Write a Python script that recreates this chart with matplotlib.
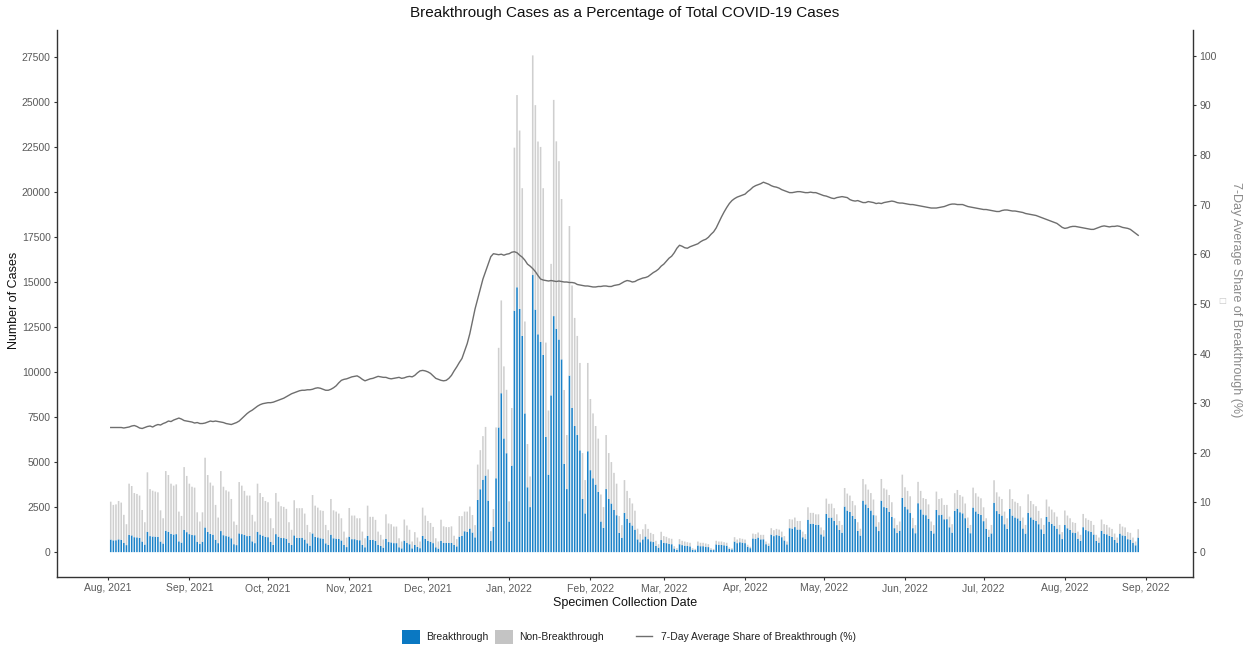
import matplotlib
matplotlib.use("Agg")
import matplotlib.pyplot as plt
import matplotlib.dates as mdates
from matplotlib.patches import Patch
from matplotlib.lines import Line2D
import numpy as np
import datetime as dt

plt.rcParams['font.family'] = ['Liberation Sans', 'DejaVu Sans']

start_date = "2021-08-02"   # first bar (Monday); one bar per day, weeks listed Mon..Sun

total_cases = [
    2800, 2620, 2650, 2840, 2750, 2070, 1550,
    3800, 3670, 3280, 3230, 3140, 2340, 1660,
    4430, 3500, 3410, 3360, 3320, 2320, 1880,
    4500, 4280, 3800, 3690, 3760, 2250, 2010,
    4720, 4230, 3800, 3630, 3580, 2210, 1700,
    2210, 5240, 4280, 3860, 3690, 2620, 1920,
    4500, 3630, 3430, 3360, 2950, 1700, 1510,
    3890, 3690, 3400, 3140, 3140, 2070, 1700,
    3800, 3280, 3060, 2840, 2770, 1880, 1330,
    3280, 2800, 2550, 2510, 2400, 1660, 1240,
    2880, 2440, 2440, 2440, 2140, 1510, 1110,
    3170, 2580, 2470, 2320, 2290, 1510, 1220,
    2950, 2320, 2250, 2140, 1880, 1140, 810,
    2450, 2030, 2030, 1880, 1880, 1140, 770,
    2580, 1960, 1960, 1790, 1140, 960, 700,
    2100, 1590, 1550, 1420, 1420, 770, 590,
    1810, 1480, 1240, 590, 1110, 810, 590,
    2470, 2030, 1730, 1620, 1400, 770, 590,
    1800, 1430, 1390, 1390, 1430, 910, 720,
    2000, 2000, 2250, 2250, 2530, 2060, 1500,
    4860, 5660, 6440, 6950, 4590, 1160, 2390,
    6920, 11340, 13970, 10310, 9010, 2820, 8000,
    22450, 25370, 23400, 20200, 12800, 6000, 4200,
    27570, 24810, 22790, 22490, 20200, 11630, 7860,
    16000, 25100, 22800, 21700, 19600, 9000, 6500,
    18100, 14800, 13000, 12000, 10500, 5500, 4000,
    10500, 8500, 7700, 7000, 6300, 3200, 2500,
    6500, 5500, 5000, 4400, 3800, 2000, 1500,
    4000, 3400, 3000, 2700, 2300, 1300, 1000,
    1270, 1550, 1290, 1070, 1000, 630, 440,
    1130, 890, 850, 770, 740, 330, 220,
    720, 630, 590, 550, 520, 220, 180,
    590, 520, 520, 480, 440, 220, 180,
    630, 590, 590, 550, 520, 260, 220,
    830, 700, 770, 740, 700, 410, 300,
    1030, 1000, 1090, 960, 960, 590, 480,
    1330, 1220, 1290, 1250, 1140, 890, 590,
    1830, 1810, 1920, 1730, 1730, 1140, 1000,
    2490, 2180, 2180, 2100, 2100, 1370, 1220,
    2970, 2680, 2690, 2440, 2100, 1730, 1510,
    3560, 3250, 3140, 2840, 2600, 1660, 1300,
    4060, 3760, 3470, 3280, 2920, 2030, 1660,
    4060, 3540, 3470, 3170, 2770, 1880, 1510,
    1700, 4300, 3600, 3400, 3100, 1900, 1500,
    3900, 3400, 3000, 2950, 2650, 1700, 1500,
    3360, 2950, 2990, 2620, 2620, 1970, 1550,
    3270, 3450, 3170, 3080, 2700, 1920, 1510,
    3580, 3270, 3080, 2990, 2490, 1880, 1240,
    1510, 3990, 3320, 3080, 2950, 2250, 1880,
    3490, 2950, 2800, 2730, 2550, 1920, 1510,
    3210, 2840, 2660, 2550, 2290, 1880, 1510,
    2920, 2530, 2360, 2210, 1970, 1510, 1110,
    2310, 2030, 1880, 1660, 1620, 1140, 960,
    2120, 1880, 1790, 1730, 1510, 960, 810,
    1810, 1550, 1510, 1370, 1290, 1030, 810,
    1570, 1420, 1370, 1110, 1070, 810, 590,
    1270,
]

breakthrough_cases = [
    700, 655, 660, 710, 690, 520, 390,
    960, 930, 830, 820, 790, 590, 420,
    1130, 890, 870, 860, 850, 590, 480,
    1190, 1130, 1010, 980, 1000, 600, 530,
    1240, 1110, 1000, 950, 940, 580, 450,
    580, 1370, 1120, 1010, 970, 690, 500,
    1170, 940, 890, 870, 770, 440, 390,
    1040, 1000, 950, 890, 900, 600, 500,
    1130, 980, 920, 850, 830, 570, 400,
    1000, 860, 790, 780, 750, 520, 400,
    930, 790, 790, 800, 700, 490, 360,
    1040, 850, 820, 770, 750, 490, 400,
    970, 770, 750, 730, 650, 400, 280,
    860, 720, 720, 670, 660, 400, 270,
    900, 680, 690, 630, 400, 340, 250,
    740, 560, 540, 500, 500, 270, 210,
    640, 520, 440, 210, 400, 290, 220,
    900, 740, 630, 580, 500, 270, 200,
    630, 510, 510, 510, 510, 400, 320,
    860, 900, 1160, 1120, 1310, 1090, 820,
    2900, 3490, 4020, 4250, 2860, 630, 1400,
    4100, 6920, 8820, 6310, 5490, 1700, 4800,
    13400, 14700, 13500, 12000, 7700, 3600, 2500,
    15380, 13460, 12090, 11670, 10950, 6400, 4300,
    8700, 13100, 12400, 11800, 10700, 4900, 3500,
    9800, 8000, 7000, 6500, 5650, 2950, 2150,
    5600, 4550, 4100, 3750, 3350, 1700, 1350,
    3500, 2950, 2700, 2350, 2050, 1070, 800,
    2180, 1850, 1640, 1480, 1250, 710, 550,
    710, 870, 720, 600, 560, 350, 250,
    670, 520, 500, 460, 440, 200, 130,
    440, 390, 360, 340, 320, 140, 110,
    370, 330, 330, 300, 280, 140, 115,
    430, 400, 400, 380, 360, 180, 155,
    590, 500, 550, 530, 500, 300, 220,
    760, 740, 810, 710, 715, 440, 355,
    975, 890, 945, 915, 830, 650, 430,
    1330, 1310, 1390, 1255, 1255, 825, 725,
    1800, 1575, 1575, 1520, 1515, 985, 875,
    2120, 1915, 1920, 1740, 1500, 1235, 1080,
    2530, 2310, 2230, 2010, 1840, 1175, 920,
    2860, 2650, 2450, 2310, 2055, 1425, 1170,
    2860, 2500, 2450, 2240, 1960, 1330, 1060,
    1190, 3015, 2525, 2380, 2170, 1330, 1050,
    2715, 2370, 2090, 2050, 1840, 1180, 1040,
    2340, 2055, 2080, 1825, 1830, 1380, 1085,
    2290, 2415, 2215, 2155, 1885, 1340, 1050,
    2475, 2260, 2130, 2065, 1720, 1300, 855,
    1040, 2740, 2280, 2115, 2030, 1550, 1295,
    2400, 2030, 1925, 1875, 1750, 1315, 1030,
    2185, 1930, 1805, 1730, 1550, 1270, 1015,
    1955, 1690, 1570, 1465, 1305, 995, 725,
    1505, 1325, 1230, 1090, 1060, 745, 630,
    1385, 1225, 1165, 1125, 980, 625, 530,
    1185, 1020, 990, 900, 845, 675, 530,
    1030, 930, 895, 720, 695, 520, 380,
    810,
]

share_7day_pct = [
    25.1, 25.1, 25.1, 25.1, 25.1, 25.0, 25.1,
    25.2, 25.4, 25.5, 25.3, 25.0, 24.9, 25.1,
    25.3, 25.4, 25.2, 25.5, 25.7, 25.6, 25.9,
    26.1, 26.4, 26.3, 26.6, 26.8, 27.0, 26.8,
    26.5, 26.4, 26.3, 26.2, 26.0, 26.1, 25.9,
    25.9, 26.0, 26.2, 26.4, 26.3, 26.4, 26.3,
    26.2, 26.1, 25.9, 25.8, 25.7, 25.9, 26.1,
    26.4, 26.9, 27.4, 27.9, 28.3, 28.6, 29.0,
    29.4, 29.7, 29.9, 30.0, 30.1, 30.1, 30.2,
    30.4, 30.6, 30.8, 31.0, 31.3, 31.6, 31.9,
    32.1, 32.3, 32.5, 32.6, 32.6, 32.7, 32.7,
    32.8, 33.0, 33.1, 33.0, 32.8, 32.6, 32.6,
    32.8, 33.1, 33.5, 34.1, 34.6, 34.8, 34.9,
    35.1, 35.3, 35.4, 35.5, 35.2, 34.8, 34.5,
    34.7, 34.9, 35.0, 35.2, 35.4, 35.3, 35.2,
    35.2, 35.0, 34.9, 35.0, 35.1, 35.2, 35.0,
    35.1, 35.3, 35.4, 35.3, 35.6, 36.1, 36.5,
    36.6, 36.5, 36.3, 36.0, 35.5, 35.0, 34.8,
    34.6, 34.5, 34.6, 35.0, 35.6, 36.5, 37.3,
    38.2, 39.0, 40.5, 42.0, 44.0, 46.5, 49.0,
    51.0, 53.0, 55.0, 56.5, 58.0, 59.5, 60.1,
    60.0, 59.9, 60.0, 59.8, 60.0, 60.1, 60.4,
    60.5, 60.3, 59.8, 59.4, 58.8, 58.0, 57.6,
    57.1, 56.5, 55.7, 55.0, 54.8, 54.7, 54.6,
    54.7, 54.6, 54.5, 54.6, 54.5, 54.4, 54.4,
    54.3, 54.3, 54.2, 53.9, 53.8, 53.7, 53.6,
    53.6, 53.5, 53.4, 53.4, 53.5, 53.5, 53.6,
    53.6, 53.5, 53.5, 53.7, 53.8, 53.9, 54.2,
    54.5, 54.7, 54.6, 54.4, 54.5, 54.8, 55.0,
    55.2, 55.3, 55.5, 55.9, 56.3, 56.6, 57.0,
    57.6, 58.0, 58.6, 59.2, 59.6, 60.3, 61.2,
    61.8, 61.6, 61.3, 61.2, 61.5, 61.7, 61.9,
    62.1, 62.5, 62.8, 63.0, 63.4, 64.0, 64.5,
    65.3, 66.4, 67.5, 68.5, 69.4, 70.2, 70.8,
    71.2, 71.5, 71.7, 71.9, 72.1, 72.6, 73.0,
    73.5, 73.8, 74.0, 74.2, 74.5, 74.3, 74.1,
    73.8, 73.6, 73.5, 73.3, 73.0, 72.8, 72.6,
    72.4, 72.4, 72.5, 72.6, 72.6, 72.5, 72.4,
    72.4, 72.5, 72.4, 72.4, 72.2, 72.0, 71.8,
    71.7, 71.5, 71.3, 71.2, 71.4, 71.5, 71.6,
    71.5, 71.4, 71.0, 70.8, 70.7, 70.8, 70.6,
    70.4, 70.4, 70.6, 70.5, 70.4, 70.2, 70.3,
    70.2, 70.4, 70.5, 70.6, 70.7, 70.6, 70.4,
    70.3, 70.3, 70.2, 70.1, 70.0, 70.0, 69.9,
    69.8, 69.7, 69.6, 69.5, 69.4, 69.3, 69.3,
    69.3, 69.4, 69.5, 69.6, 69.8, 70.0, 70.1,
    70.1, 70.0, 70.0, 70.0, 69.8, 69.6, 69.5,
    69.4, 69.3, 69.2, 69.1, 69.0, 69.0, 68.9,
    68.8, 68.7, 68.6, 68.6, 68.8, 68.9, 68.9,
    68.8, 68.7, 68.7, 68.6, 68.5, 68.4, 68.2,
    68.1, 68.0, 67.9, 67.8, 67.6, 67.4, 67.2,
    67.0, 66.8, 66.6, 66.4, 66.2, 65.8, 65.4,
    65.2, 65.3, 65.5, 65.6, 65.6, 65.5, 65.4,
    65.3, 65.2, 65.1, 65.0, 65.0, 65.2, 65.4,
    65.6, 65.7, 65.6, 65.5, 65.6, 65.6, 65.7,
    65.6, 65.4, 65.3, 65.2, 65.0, 64.6, 64.2,
    63.8,
]

left_ticks = [0, 2500, 5000, 7500, 10000, 12500, 15000, 17500, 20000, 22500, 25000, 27500]
right_ticks = [0, 10, 20, 30, 40, 50, 60, 70, 80, 90, 100]
sec_scale = 275.6   # cases per percentage point on the secondary axis

title = "Breakthrough Cases as a Percentage of Total COVID-19 Cases"
xlabel = "Specimen Collection Date"
ylabel = "Number of Cases"
y2label = "7-Day Average Share of Breakthrough (%)"
legend_labels = ["Breakthrough", "Non-Breakthrough", "7-Day Average Share of Breakthrough (%)"]

BLUE = "#0A78C2"
GREY = "#C4C4C4"
BAR_BLUE = "#1B82C8"
BAR_GREY = "#CFCFCF"
LINE = "#6E6E6E"
TICKC = "#5A5A5A"
SPINE = "#333333"

n = len(total_cases)
d0 = np.datetime64(start_date)
dates = d0 + np.arange(n).astype('timedelta64[D]')
dnum = mdates.date2num(dates.astype('datetime64[D]').astype(dt.date))
bt = np.array(breakthrough_cases, dtype=float)
tot = np.array(total_cases, dtype=float)
nonbt = tot - bt

W, H = 1243, 649
fig = plt.figure(figsize=(W / 100, H / 100), dpi=100)
axl, axr, axb, axt = 57, 1193, 577, 30
ax = fig.add_axes([axl / W, 1 - axb / H, (axr - axl) / W, (axb - axt) / H])

b1 = ax.bar(dnum, bt, width=0.6, color=BAR_BLUE, linewidth=0)
b2 = ax.bar(dnum, nonbt, bottom=bt, width=0.6, color=BAR_GREY, linewidth=0)
for bc in (b1, b2):
    for p in bc.patches:
        p.set_snap(False)

ylo, yhi = -1380, 28980
ax.set_ylim(ylo, yhi)
xl = mdates.date2num(dt.date(2021, 8, 1)) - 19.5
xr = mdates.date2num(dt.date(2022, 9, 1)) + 17.9
ax.set_xlim(xl, xr)

ax.set_yticks(left_ticks)
ax.set_yticklabels([str(t) for t in left_ticks])
months = [dt.date(2021 + (7 + i) // 12, (7 + i) % 12 + 1, 1) for i in range(14)]
ax.set_xticks(mdates.date2num(months))
ax.set_xticklabels([m.strftime("%b, %Y") for m in months])

ax2 = ax.twinx()
ax2.plot(dnum, share_7day_pct, color=LINE, linewidth=1.0)
ax2.set_ylim(ylo / sec_scale, yhi / sec_scale)
ax2.set_yticks(right_ticks)
ax2.set_yticklabels([str(t) for t in right_ticks])
ax2.set_xlim(xl, xr)

for a in (ax, ax2):
    a.spines['top'].set_visible(False)
    for s in ('left', 'right', 'bottom'):
        a.spines[s].set_color(SPINE)
        a.spines[s].set_linewidth(1.0)
    a.tick_params(axis='both', which='major', length=2.5, width=0.8, color=SPINE,
                  labelsize=7.5, labelcolor=TICKC, pad=2)
    a.set_facecolor('none')
ax.spines['right'].set_visible(False)
ax2.spines['left'].set_visible(False)
ax2.spines['bottom'].set_visible(False)

fig.text(625 / W, 1 - 13 / H, title, ha='center', va='center', fontsize=11, color='#111111')
fig.text(625 / W, 1 - 603 / H, xlabel, ha='center', va='center', fontsize=9, color='#111111')
fig.text(14 / W, 1 - 300 / H, ylabel, ha='center', va='center', rotation=90, fontsize=9, color='#111111')
fig.text(1236 / W, 1 - 300 / H, y2label, ha='center', va='center', rotation=270, fontsize=9, color='#8A8A8A')
fig.text(1222 / W, 1 - 300 / H, "\u25A1", ha='center', va='center', fontsize=6, color='#C8C8C8',
         family=['DejaVu Sans'])

h1 = [Patch(facecolor=BLUE, edgecolor='none'), Patch(facecolor=GREY, edgecolor='none')]
leg1 = fig.legend(h1, legend_labels[:2], loc='center left', bbox_to_anchor=(402 / W, 1 - 637 / H),
                  ncol=2, frameon=False, fontsize=7.5, handlelength=1.75, handleheight=1.75,
                  handletextpad=0.6, columnspacing=0.6, borderpad=0, borderaxespad=0)
h2 = [Line2D([0], [0], color=LINE, linewidth=1.0)]
leg2 = fig.legend(h2, legend_labels[2:], loc='center left', bbox_to_anchor=(636 / W, 1 - 637 / H),
                  frameon=False, fontsize=7.5, handlelength=1.5, handletextpad=0.9,
                  borderpad=0, borderaxespad=0)
for lg in (leg1, leg2):
    for t in lg.get_texts():
        t.set_color('#222222')

fig.savefig("out.png", dpi=100)
